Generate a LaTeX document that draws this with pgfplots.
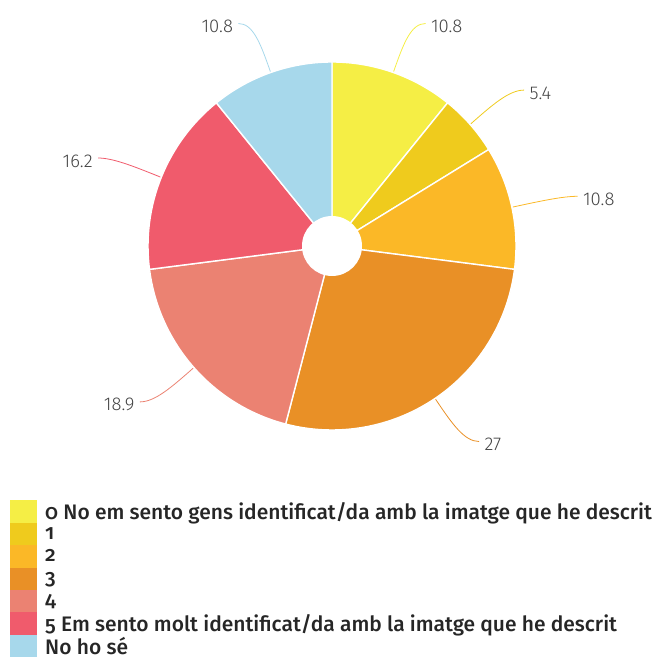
\documentclass[border=0pt]{standalone}
\usepackage{fontspec}
\setmainfont{Fira Sans}
\newfontfamily\labfont{Fira Sans Light}
\newfontfamily\legfont[Numbers=OldStyle]{Fira Sans Medium}
\usepackage{pgfplots}
\usepackage{pgfplotstable}
\pgfplotsset{compat=1.18}
\usetikzlibrary{calc}

\definecolor{pie0}{HTML}{F5EE45}
\definecolor{pie1}{HTML}{EFCB1D}
\definecolor{pie2}{HTML}{FBB827}
\definecolor{pie3}{HTML}{E99026}
\definecolor{pie4}{HTML}{EB8272}
\definecolor{pie5}{HTML}{F05B6C}
\definecolor{pie6}{HTML}{A7D8EB}
\definecolor{labgray}{HTML}{444444}

% share of answers, clockwise from 12 o'clock
\pgfplotstableread{
value
10.8
5.4
10.8
27
18.9
16.2
10.8
}\piedata

\pgfplotstablegetrowsof{\piedata}
\pgfmathtruncatemacro\lastrow{\pgfplotsretval-1}
\def\total{0}
\pgfplotsforeachungrouped \i in {0,...,\lastrow}{%
  \pgfplotstablegetelem{\i}{value}\of\piedata
  \pgfmathsetmacro\total{\total+\pgfplotsretval}%
}
\pgfmathsetmacro\degper{360/\total}
\def\cum{0}
\pgfplotsforeachungrouped \i in {0,...,\lastrow}{%
  \pgfplotstablegetelem{\i}{value}\of\piedata
  \let\v\pgfplotsretval
  \pgfmathsetmacro\aS{90-\degper*\cum}%
  \pgfmathsetmacro\cum{\cum+\v}%
  \pgfmathsetmacro\aE{90-\degper*\cum}%
  \pgfmathsetmacro\aM{(\aS+\aE)/2}%
  \expandafter\xdef\csname aS\i\endcsname{\aS}%
  \expandafter\xdef\csname aE\i\endcsname{\aE}%
  \expandafter\xdef\csname aM\i\endcsname{\aM}%
  \expandafter\xdef\csname val\i\endcsname{\v}%
  \pgfmathparse{cos(\aM)>=0}%
  \ifdim\pgfmathresult pt>0.5pt
    \expandafter\xdef\csname an\i\endcsname{west}%
    \expandafter\xdef\csname dir\i\endcsname{0}%
  \else
    \expandafter\xdef\csname an\i\endcsname{east}%
    \expandafter\xdef\csname dir\i\endcsname{180}%
  \fi
}

\begin{document}
\begin{tikzpicture}
\begin{axis}[
    x=1pt, y=1pt,
    xmin=-332, xmax=329, ymin=-416, ymax=246,
    hide axis, clip=false,
    legend image code/.code={\fill[#1, draw=none] (0pt,-11.2pt) rectangle (27pt,11.2pt);},
    legend style={at={(axis cs:-322,-254)}, anchor=north west,
        draw=none, fill=none, inner sep=0pt, row sep=0pt,
        /tikz/every odd column/.style={column sep=6pt},
        cells={anchor=west},
        font=\legfont\fontsize{21}{22}\selectfont, text=black!85},
]
\path (axis cs:-332,-416) rectangle (axis cs:329,246);
\coordinate (O) at (axis cs:0,0);
\pgfplotsinvokeforeach{0,...,6}{
  \fill[fill=pie#1, draw=white, line width=1.4pt] (O) -- ($(O)+(\csname aS#1\endcsname:184pt)$)
    arc[start angle=\csname aS#1\endcsname, end angle=\csname aE#1\endcsname, radius=184pt] -- cycle;
  \draw[pie#1, line width=0.8pt]
    ($(O)+(\csname aM#1\endcsname:185pt)$) .. controls ($(O)+(\csname aM#1\endcsname:214pt)$)
    and ($(O)+(\csname aM#1\endcsname:236pt)$) ..
    ($(O)+(\csname aM#1\endcsname:236pt)+(\csname dir#1\endcsname:15pt)$)
    node[anchor=\csname an#1\endcsname, inner sep=5pt, yshift=-3pt, text=labgray,
         font=\labfont\fontsize{18.5}{20}\selectfont] {\csname val#1\endcsname};
}
\fill[white] (O) circle[radius=30pt];

\addlegendimage{fill=pie0}\addlegendentry{0 No em sento gens identificat/da amb la imatge que he descrit}
\addlegendimage{fill=pie1}\addlegendentry{1}
\addlegendimage{fill=pie2}\addlegendentry{2}
\addlegendimage{fill=pie3}\addlegendentry{3}
\addlegendimage{fill=pie4}\addlegendentry{4}
\addlegendimage{fill=pie5}\addlegendentry{5 Em sento molt identificat/da amb la imatge que he descrit}
\addlegendimage{fill=pie6}\addlegendentry{No ho sé}
\end{axis}
\end{tikzpicture}
\end{document}
